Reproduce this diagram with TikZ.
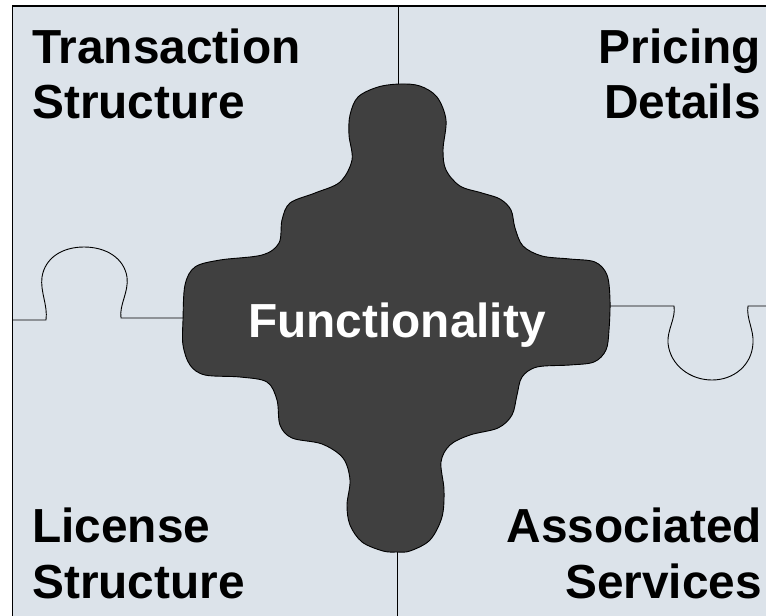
\documentclass[tikz,border=0pt]{standalone}
\usepackage{fontspec}
\setmainfont{Liberation Sans}
\definecolor{bgc}{HTML}{DCE3EA}
\definecolor{darkc}{HTML}{404040}
\tikzset{
  lbl/.style={font=\bfseries\fontsize{47.8}{55}\selectfont, inner sep=0pt, text=black},
  seam/.style={draw=black, line width=0.9pt},
}
\begin{document}
\begin{tikzpicture}[x=1pt,y=-1pt]
\useasboundingbox (0,0) rectangle (766,616);
\fill[bgc] (12.5,6) rectangle (766,616);
\draw[line width=1.1pt] (12.5,616) -- (12.5,6) -- (766,6);
% seams
\coordinate (tA) at (398,6);
\coordinate (tB) at (398,86);
\coordinate (bA) at (397,552);
\coordinate (bB) at (397,616);
\draw[seam] (tA) -- (tB);
\draw[seam] (bA) -- (bB);
\coordinate (lA) at (12.5,320);
\coordinate (lB) at (184,318);
\draw[seam] (lA) -- (46,320) .. controls (48,305) and (40,292) .. (42,277)
  .. controls (45,258) and (62,247) .. (84,247)
  .. controls (106,247) and (124,258) .. (127,277)
  .. controls (129,292) and (119,305) .. (121,318) -- (lB);
\coordinate (rA) at (609,306);
\coordinate (rB) at (766,306);
\draw[seam] (rA) -- (674,306) .. controls (676,318) and (667,330) .. (668,343)
  .. controls (670,365) and (690,380) .. (712,380)
  .. controls (734,380) and (752,365) .. (753,343)
  .. controls (754,330) and (746,318) .. (748,306) -- (rB);
% central piece
\filldraw[fill=darkc, draw=black, line width=0.9pt]
  plot[smooth cycle, tension=0.55] coordinates {
  (400,84) (420,86) (437,97) (446,120) (443,150) (446,170) (460,186) (482,193) (500,199) (511,210) (515,228) (523,246) (542,256) (570,259) (595,262) (607,275) (610,300) (609,330) (606,350) (594,362) (570,365) (537,367) (522,377) (517,395) (512,415) (498,428) (470,435) (450,445) (441,462) (444,490) (442,517) (430,540) (410,551) (397,552) (383,551) (362,542) (350,525) (347,505) (350,480) (343,458) (322,444) (292,438) (280,425) (277,400) (267,382) (240,377) (205,375) (190,365) (183,345) (183,320) (185,285) (195,267) (220,260) (262,255) (279,243) (282,220) (290,203) (315,193) (340,182) (352,160) (349,135) (350,115) (358,97) (378,87)};
\node[lbl, text=white, anchor=base] (func) at (397,337) {Functionality};
\node[lbl, anchor=base west] (ts1) at (32,63) {Transaction};
\node[lbl, anchor=base west] (ts2) at (32,118) {Structure};
\node[lbl, anchor=base east] (pd1) at (761,63) {Pricing};
\node[lbl, anchor=base east] (pd2) at (761,118) {Details};
\node[lbl, anchor=base west] (ls1) at (32,542) {License};
\node[lbl, anchor=base west] (ls2) at (32,598) {Structure};
\node[lbl, anchor=base east] (as1) at (762,542) {Associated};
\node[lbl, anchor=base east] (as2) at (762,598) {Services};
\end{tikzpicture}
\end{document}
